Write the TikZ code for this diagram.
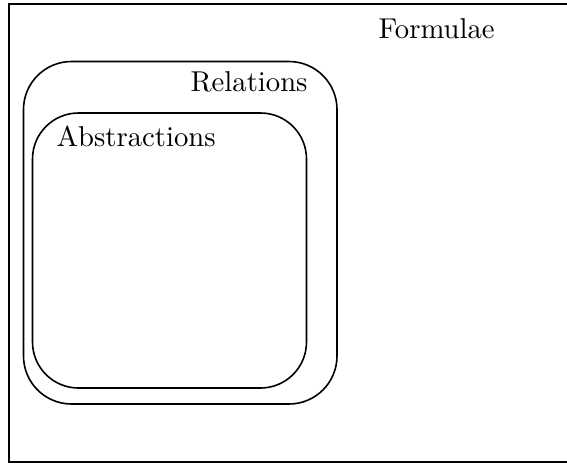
\documentclass[tikz,border=0pt]{standalone}
\usepackage{tikz}
\usetikzlibrary{positioning}
\tikzset{
  region/.style={
    draw=black, line width=1.6pt, rounded corners=#1,
    inner sep=0pt, outer sep=0pt
  },
  setname/.style={
    anchor=base west, inner sep=0pt,
    font=\fontsize{10}{12}\selectfont,
    scale=2.87, transform shape
  }
}

\begin{document}
\begin{tikzpicture}[x=1pt, y=-1pt]
\useasboundingbox (0,0) rectangle (567,464);

%% Outer frame (cut off at the right)
\draw[line width=1.8pt] (567,4) -- (9,4) -- (9,462) -- (567,462);

%% Nested sets
\node[region=48pt, minimum width=313.5pt, minimum height=342.5pt] (relations) at (180.25,232.75) {};
\node[region=46pt, minimum width=274pt, minimum height=275pt] (abstractions) at (169.5,250.5) {};

%% Labels
\node[setname] (formulae label) at (378,38) {Formulae};
\node[setname] (relations label) at (190,91) {Relations};
\node[setname] (abstractions label) at (56,146) {Abstractions};
\end{tikzpicture}
\end{document}
